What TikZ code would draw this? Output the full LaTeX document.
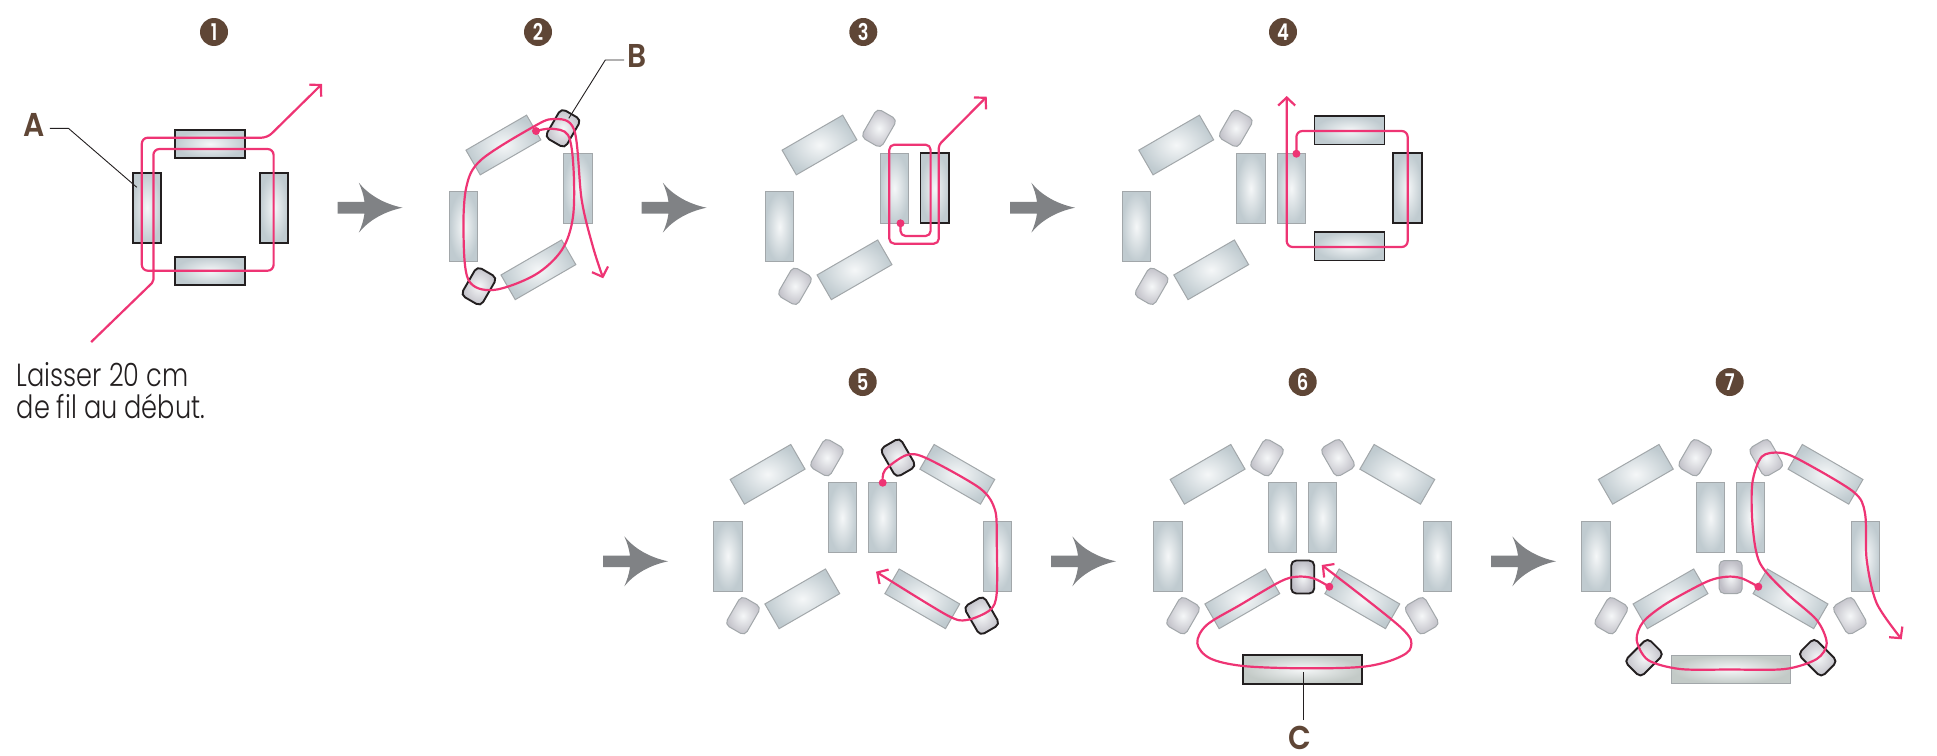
\documentclass[tikz,border=0pt]{standalone}
\usepackage{fontspec}
\usetikzlibrary{arrows.meta}
\setmainfont{Poppins}
\newfontfamily\textf[FakeStretch=0.8]{Poppins Light}
\newfontfamily\labf[FakeStretch=0.78]{Poppins SemiBold}
\newfontfamily\letf[FakeStretch=0.9]{Poppins SemiBold}
\definecolor{thread}{HTML}{EE3474}
\definecolor{brownc}{HTML}{5F4636}
\definecolor{blockc}{HTML}{808285}
\definecolor{beadc}{HTML}{C0CBD0}
\definecolor{beadm}{HTML}{F5F7F8}
\definecolor{seedc}{HTML}{BFBEC6}
\definecolor{barc}{HTML}{C3CAC7}
\definecolor{inkc}{HTML}{231F20}
\definecolor{edgec}{HTML}{A2A7AA}
\tikzset{
  longbead/.style={rectangle,minimum width=70pt,minimum height=28.5pt,inner sep=0pt,outer sep=0pt,
    inner color=beadm,outer color=beadc,draw=edgec,line width=1pt},
  seedbead/.style={rectangle,rounded corners=5pt,minimum width=23pt,minimum height=33pt,inner sep=0pt,outer sep=0pt,
    inner color=beadm,outer color=seedc,draw=edgec,line width=1pt},
  longbar/.style={rectangle,minimum width=119pt,minimum height=28.5pt,inner sep=0pt,outer sep=0pt,
    inner color=beadm,outer color=barc,draw=edgec,line width=1pt},
  hot/.style={draw=inkc,line width=1.9pt},
  threadline/.style={draw=thread,line width=2.2pt,line join=round,rounded corners=6pt},
  threadcurve/.style={draw=thread,line width=2.2pt,line join=round},
  tipped/.style={-{Straight Barb[length=8pt,width=17pt,line width=2.2pt]}},
  threaddot/.style={circle,fill=thread,minimum size=8pt,inner sep=0pt},
  badge/.style={circle,fill=brownc,text=white,minimum size=28pt,inner sep=0pt,font=\labf\fontsize{23}{23}\selectfont},
  letter/.style={text=brownc,inner sep=0pt,font=\letf\fontsize{33}{33}\selectfont},
  leader/.style={draw=inkc,line width=0.9pt},
}
\newcommand{\longb}[5][]{\node[longbead,rotate=#5,#1] (#2) at (#3,#4) {};}
\newcommand{\seedb}[5][]{\node[seedbead,rotate=#5,#1] (#2) at (#3,#4) {};}
\newcommand{\blockarrow}[3]{\fill[blockc,shift={(#2,#3)}] (0,-5.8) -- (27,-5.8) .. controls (26,-13) and (24,-19) .. (21.3,-25) .. controls (31,-13) and (46,-4) .. (65,0) .. controls (46,4) and (31,13) .. (21.3,25) .. controls (24,19) and (26,13) .. (27,5.8) -- (0,5.8) -- cycle;}
\begin{document}
\begin{tikzpicture}[x=1pt,y=-1pt]
\useasboundingbox (0,0) rectangle (1937,755);
% badges
\node[badge] (n1) at (214,32) {1};
\node[badge] (n2) at (538,32) {2};
\node[badge] (n3) at (863.3,32) {3};
\node[badge] (n4) at (1283,32) {4};
\node[badge] (n5) at (862.7,382) {5};
\node[badge] (n6) at (1302.7,382) {6};
\node[badge] (n7) at (1729.7,382) {7};
% block arrows
\blockarrow{a1}{337.5}{207.7}
\blockarrow{a2}{641.5}{207.7}
\blockarrow{a3}{1010}{207.7}
\blockarrow{a4}{603}{561.3}
\blockarrow{a5}{1051}{561.3}
\blockarrow{a6}{1491}{561.3}
% step 1
\longb[hot]{a-t}{210.2}{144}{0}
\longb[hot]{a-b}{210.2}{271}{0}
\longb[hot]{a-l}{147}{207.7}{90}
\longb[hot]{a-r}{273.8}{207.7}{90}
\coordinate (a-end) at (322,84);
\coordinate (a-start) at (91.2,342);
\draw[threadline,tipped] (a-start) [rounded corners=2pt] -- (153.4,281.7) [rounded corners=6pt] -- (153.4,149) -- (273.6,149) -- (273.6,270.7) -- (141.8,270.7) -- (141.8,137.7) -- (267.4,137.7) [rounded corners=1pt] -- (a-end);
\node[letter] (la) at (34,125) {A};
\coordinate (la-k) at (68.4,128.3);
\coordinate (la-e) at (49.8,128.3);
\coordinate (la-t) at (136.8,187.3);
\draw[leader] (la-e) -- (la-k) -- (la-t);
\node[anchor=north west,inner sep=0pt,align=left,font=\textf\fontsize{32}{32}\selectfont,text=inkc] (note) at (16.6,362) {Laisser 20 cm\\de fil au début.};
% step 2
\longb{b-l}{463.5}{226.8}{90}
\longb{b-r}{578}{188.4}{90}
\longb{b-u}{503.4}{145}{30}
\longb{b-d}{538.4}{269.8}{30}
\seedb[hot]{b-st}{563}{128.3}{-30}
\seedb[hot]{b-sb}{478.9}{286.3}{-30}
\draw[threadcurve,tipped] plot[smooth,tension=.55] coordinates {(536,131) (551.4,128.7) (568,135) (573.4,166.7) (573,216.7) (561.8,250) (534.8,275) (493.4,290) (468.5,280) (463.5,233.3) (466.4,186.7) (481,160) (530.7,128.3) (553.5,119) (574.2,130) (581.7,200) (592.9,246.7) (603.2,278.3)};
\node[threaddot] (b-dot) at (536,131) {};
\node[letter] (lb) at (637,56) {B};
\coordinate (lb-k) at (605.3,60);
\coordinate (lb-e) at (624,60);
\coordinate (lb-t) at (568.8,118.3);
\draw[leader] (lb-e) -- (lb-k) -- (lb-t);
% step 3
\longb{c-l}{779.6}{226.8}{90}
\longb{c-r}{894.4}{188.4}{90}
\longb{c-u}{819.5}{145}{30}
\longb{c-d}{854.5}{269.8}{30}
\seedb{c-st}{879}{128.3}{-30}
\seedb{c-sb}{795}{286.3}{-30}
\longb[hot]{c-n}{934.7}{188.4}{90}
\node[threaddot] (c-dot) at (900.5,223.3) {};
\coordinate (c-end) at (986.7,96.7);
\draw[threadline,tipped,rounded corners=5pt] (c-dot.center) -- (900.5,236) -- (930.6,236) -- (930.6,144.7) -- (889.3,144.7) -- (889.3,243.7) -- (938.8,243.7) [rounded corners=3pt] -- (938.8,145) [rounded corners=1pt] -- (c-end);
% step 4
\longb{d-l}{1136.3}{226.8}{90}
\longb{d-r}{1250.8}{188.4}{90}
\longb{d-r2}{1291.3}{188.4}{90}
\longb{d-u}{1176.2}{145}{30}
\longb{d-d}{1211.2}{269.8}{30}
\seedb{d-st}{1235.8}{128.3}{-30}
\seedb{d-sb}{1151.7}{286.3}{-30}
\longb[hot]{d-t}{1349.5}{130.2}{0}
\longb[hot]{d-b}{1349.5}{246.2}{0}
\longb[hot]{d-e}{1407.5}{188.4}{90}
\node[threaddot] (d-dot) at (1296.4,153.7) {};
\coordinate (d-end) at (1286.7,96);
\draw[threadline,tipped] (d-dot.center) -- (1296.4,131) -- (1407.7,131) -- (1407.7,247) -- (1286.7,247) -- (d-end);
% step 5
\longb{e-l}{727.8}{556}{90}
\longb{e-c1}{842.3}{517.7}{90}
\longb{e-c2}{882.5}{517.7}{90}
\longb{e-r}{997.3}{556}{90}
\longb{e-ul}{767.6}{474.3}{30}
\longb{e-dl}{802.3}{598.8}{30}
\longb{e-ur}{957.3}{474.3}{-30}
\longb{e-dr}{922.3}{598.8}{-30}
\seedb{e-s1}{827}{457.7}{-30}
\seedb{e-s2}{743}{615.7}{-30}
\seedb[hot]{e-s3}{898}{457.7}{30}
\seedb[hot]{e-s4}{981.7}{615.7}{30}
\draw[threadcurve,tipped] plot[smooth,tension=.5] coordinates {(882.7,482.7) (885,470) (906.7,455) (926.7,458.3) (980,488.3) (995,510) (996.7,540) (996.7,593.3) (990,610) (966.7,620) (946.7,615) (876,571.7)};
\node[threaddot] (e-dot) at (882.7,482.7) {};
% step 6
\longb{f-l}{1167.8}{556}{90}
\longb{f-c1}{1282.3}{517.7}{90}
\longb{f-c2}{1322.5}{517.7}{90}
\longb{f-r}{1437.3}{556}{90}
\longb{f-ul}{1207.6}{474.3}{30}
\longb{f-dl}{1242.3}{598.8}{30}
\longb{f-ur}{1397.3}{474.3}{-30}
\longb{f-dr}{1362.3}{598.8}{-30}
\seedb{f-s1}{1267}{457.7}{-30}
\seedb{f-s2}{1183}{615.7}{-30}
\seedb{f-s3}{1338}{457.7}{30}
\seedb{f-s4}{1421.7}{615.7}{30}
\seedb[hot]{f-sc}{1302.7}{577}{0}
\node[longbar,hot] (f-bar) at (1302.7,669.3) {};
\draw[threadcurve,tipped] plot[smooth,tension=.55] coordinates {(1329.3,586.7) (1313.3,578.3) (1296.7,576.7) (1280,581.7) (1240,605) (1206.7,625) (1197.3,643.3) (1210,658.3) (1243.3,666) (1303.3,668.3) (1363.3,666.7) (1396.7,658.3) (1411,646.7) (1400,626.7) (1321.7,565)};
\node[threaddot] (f-dot) at (1329.3,586.7) {};
\node[letter] (lc) at (1300,738) {C};
\coordinate (lc-e) at (1303.3,720);
\coordinate (lc-t) at (1303.3,671.7);
\draw[leader] (lc-e) -- (lc-t);
% step 7
\longb{g-l}{1596}{556}{90}
\longb{g-c1}{1710.5}{517.7}{90}
\longb{g-c2}{1750.7}{517.7}{90}
\longb{g-r}{1865.5}{556}{90}
\longb{g-ul}{1635.8}{474.3}{30}
\longb{g-dl}{1670.5}{598.8}{30}
\longb{g-ur}{1825.5}{474.3}{-30}
\longb{g-dr}{1790.5}{598.8}{-30}
\seedb{g-s1}{1695.2}{457.7}{-30}
\seedb{g-s2}{1611.2}{615.7}{-30}
\seedb{g-s3}{1766.2}{457.7}{30}
\seedb{g-s4}{1849.9}{615.7}{30}
\seedb{g-sc}{1730.7}{577}{0}
\seedb[hot]{g-bl}{1644}{657.7}{-45}
\seedb[hot]{g-br}{1817.7}{657.7}{45}
\node[longbar] (g-bar) at (1730.8,669.3) {};
\draw[threadcurve,tipped] plot[smooth,tension=.5] coordinates {(1758.3,586.7) (1741.7,578.3) (1726.7,576.7) (1706.7,581.7) (1666.7,603.3) (1643.3,621.7) (1636.7,640) (1648,660) (1680,669) (1730,669.5) (1785,669) (1816.7,659) (1826.7,643.3) (1816.7,620) (1786.7,593.3) (1760,563.3) (1752.7,526.7) (1752.3,483.3) (1761.7,456.7) (1780,452.7) (1800,460) (1853.3,491.7) (1865,513.3) (1866.7,560) (1876.7,603.3) (1901.7,639.3)};
\node[threaddot] (g-dot) at (1758.3,586.7) {};
\end{tikzpicture}
\end{document}
